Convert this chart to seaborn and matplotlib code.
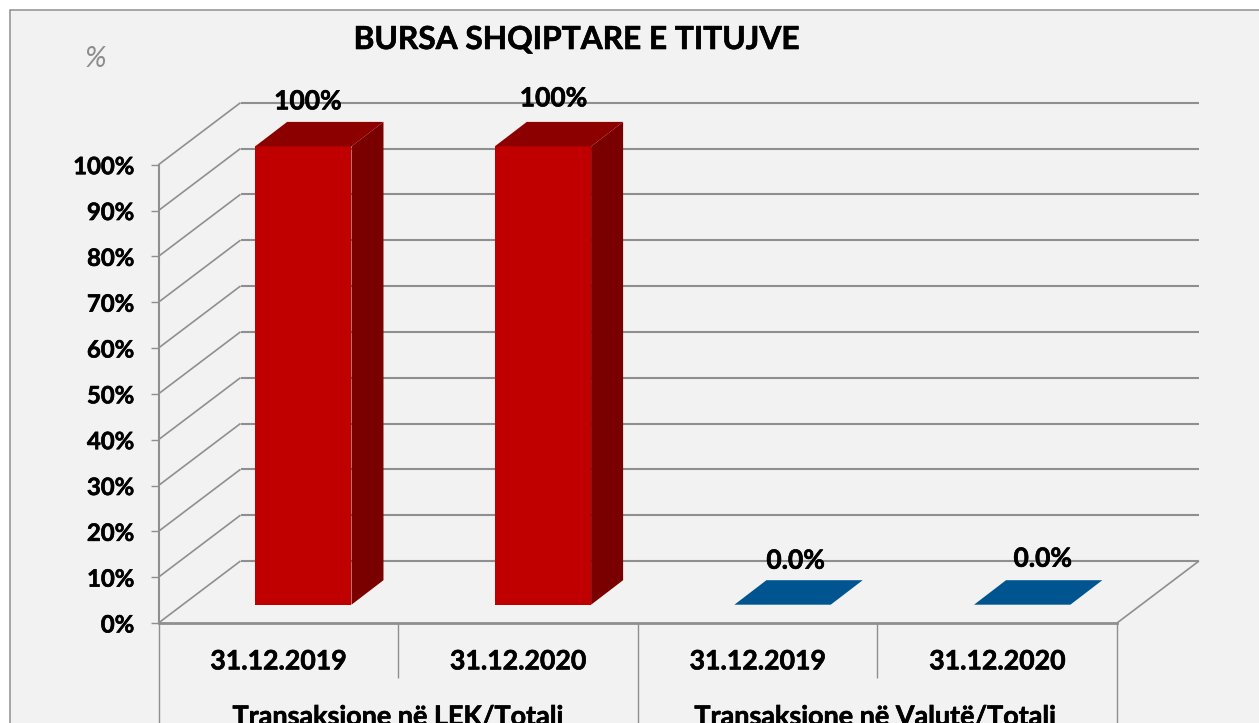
import matplotlib
matplotlib.use("Agg")
import matplotlib.pyplot as plt
from matplotlib.patches import Polygon, Rectangle
import matplotlib.patheffects as pe
import pandas as pd
import seaborn as sns

# ---- data ----
groups = ["Transaksione në LEK/Totali", "Transaksione në Valutë/Totali"]
dates = ["31.12.2019", "31.12.2020", "31.12.2019", "31.12.2020"]
series = ["LEK", "LEK", "Valutë", "Valutë"]
values = [100, 100, 0, 0]
value_labels = ["100%", "100%", "0.0%", "0.0%"]
y_ticks = [0, 10, 20, 30, 40, 50, 60, 70, 80, 90, 100]
title = "BURSA SHQIPTARE E TITUJVE"
unit = "%"

# ---- style / layout (pixels of the 1259x723 picture) ----
W, H, DPI = 1259, 723, 100
BG, GREY = "#f2f2f2", "#8f8f8f"
FONT = "Lato"
FRONT_L, FRONT_R, FRONT_B, FRONT_T = 158.5, 1117, 623, 164.7
WALL_DX, WALL_DY = 82, 62
BAR_DX, BAR_DY = 25, 18.3
DEPTH_DX, DEPTH_DY = 32, 24.5
LABEL_SHIFT = [(4.5, 45), (10.5, 48), (13, 44), (20.5, 46)]
GROUP_SHIFT = [-1, -3]
colors = {"LEK": ("#c00000", "#8c0000", "#7a0000"),
          "Valutë": ("#005590", "#005590", "#005590")}
HEAVY = [pe.withStroke(linewidth=0.45, foreground="black")]

sns.set_theme(style="white")
plt.rcParams["font.family"] = [FONT, "DejaVu Sans"]
plt.rcParams["font.weight"] = "bold"

fig = plt.figure(figsize=(W / DPI, H / DPI), dpi=DPI, facecolor="white")
fig.add_artist(Rectangle((10 / W, -0.1), 1.1, (H - 10) / H + 0.1,
                         transform=fig.transFigure, fc=BG, ec=GREY, lw=1.1, zorder=-1))


def px_axes(dx, dy):
    return fig.add_axes([(FRONT_L + dx) / W, (H - FRONT_B + dy) / H,
                         (FRONT_R - FRONT_L) / W, (FRONT_B - FRONT_T) / H])


ax = px_axes(0, 0)
ax_bar = px_axes(BAR_DX, BAR_DY)
for a in (ax, ax_bar):
    a.patch.set_alpha(0)

df = pd.DataFrame({"slot": [f"{i}" for i in range(len(values))],
                   "value": values, "series": series})
sns.barplot(data=df, x="slot", y="value", hue="series", dodge=False, width=0.402,
            palette={k: v[0] for k, v in colors.items()}, legend=False,
            saturation=1, linewidth=0, ax=ax_bar, zorder=3)

n = len(values)
for a in (ax, ax_bar):
    a.set_xlim(-0.5, n - 0.5)
    a.set_ylim(0, 100)

ux = (n) / (FRONT_R - FRONT_L)           # data units per pixel, x
uy = 100 / (FRONT_B - FRONT_T)           # data units per pixel, y

# walls and floor
lc = dict(color=GREY, clip_on=False, solid_capstyle="butt")
for t in y_ticks:
    ax.plot([-0.5, -0.5 + WALL_DX * ux], [t, t + WALL_DY * uy], lw=1.2, **lc)
    ax.plot([-0.5 + WALL_DX * ux, n - 0.5 + WALL_DX * ux],
            [t + WALL_DY * uy] * 2, lw=1.5, **lc)
ax.plot([n - 0.5, n - 0.5 + WALL_DX * ux], [0, WALL_DY * uy], lw=1.2, **lc)

# axes
for side in ("top", "right"):
    ax.spines[side].set_visible(False)
ax.spines["left"].set_color(GREY)
ax.spines["left"].set_linewidth(1.5)
ax.spines["bottom"].set_color(GREY)
ax.spines["bottom"].set_linewidth(2.0)
ax.set_yticks(y_ticks, [f"{t}%" for t in y_ticks])
ax.tick_params(axis="y", length=6, width=1.0, color=GREY, pad=11.5,
               labelsize=17.2, left=True)
ax.set_xticks(range(n), dates)
ax.tick_params(axis="x", length=0, pad=19, labelsize=19.2, bottom=False)
for lab in ax.get_xticklabels() + ax.get_yticklabels():
    lab.set_fontweight("bold")
    lab.set_color("black")
    lab.set_path_effects(HEAVY)
ax.set_xlabel("")
ax.set_ylabel("")

# category separators
short_y = -(678 - FRONT_B) * uy
long_y = -(H - FRONT_B + 2) * uy
for x in (0.5, 2.5):
    ax.plot([x, x], [0, short_y], lw=1.0, **lc)
for x in (-0.5, 1.5, 3.5):
    ax.plot([x, x], [0, long_y], lw=1.0, **lc)

# group labels
for i, (g, gx) in enumerate(zip(groups, GROUP_SHIFT)):
    ax.text(0.5 + 2 * i + gx * ux, -(717 - FRONT_B) * uy, g, ha="center", va="center",
            fontsize=19.4, fontweight="bold", color="black", clip_on=False,
            path_effects=HEAVY)

# 3-D faces and value labels
ax_bar.set_xlabel("")
ax_bar.set_ylabel("")
bars = sorted(ax_bar.patches, key=lambda p: p.get_x())
ddx, ddy = DEPTH_DX * ux, DEPTH_DY * uy
for p, s, txt, (lx, ly) in zip(bars, series, value_labels, LABEL_SHIFT):
    x0, x1, h = p.get_x(), p.get_x() + p.get_width(), p.get_height()
    _, top, side = colors[s]
    ax_bar.add_patch(Polygon([(x0, h), (x1, h), (x1 + ddx, h + ddy), (x0 + ddx, h + ddy)],
                             closed=True, fc=top, ec="none", clip_on=False, zorder=3))
    if h > 0:
        ax_bar.add_patch(Polygon([(x1, 0), (x1 + ddx, ddy), (x1 + ddx, h + ddy), (x1, h)],
                                 closed=True, fc=side, ec="none", clip_on=False, zorder=3))
    ax_bar.text((x0 + x1) / 2 + lx * ux, h + ly * uy, txt, ha="center", va="center",
                fontsize=19, fontweight="bold", color="black", clip_on=False, zorder=5,
                path_effects=HEAVY)
ax_bar.set_xticks([])
ax_bar.set_yticks([])
for sp in ax_bar.spines.values():
    sp.set_visible(False)

fig.text(576 / W, 1 - 39.5 / H, title, ha="center", va="center",
         fontsize=22.8, fontweight="bold", color="black", path_effects=HEAVY)
fig.text(95 / W, 1 - 59 / H, unit, ha="center", va="center", fontsize=21,
         fontstyle="italic", fontweight="normal", color="#8c8c8c")

fig.savefig("out.png", dpi=DPI, facecolor=fig.get_facecolor())
